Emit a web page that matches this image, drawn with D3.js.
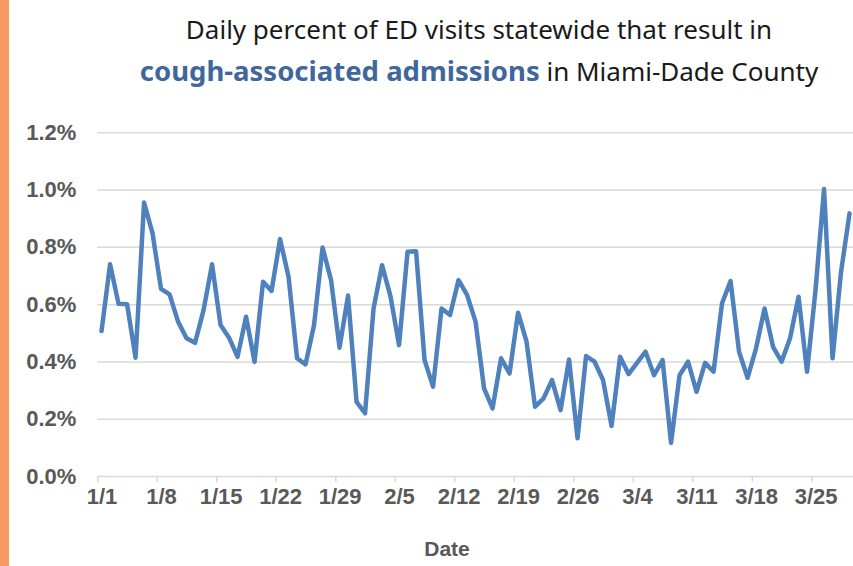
<!DOCTYPE html>
<html>
<head>
<meta charset="utf-8">
<script src="https://cdn.jsdelivr.net/npm/d3@7"></script>
<style>
  body { margin: 0; background: #fff; }
  svg { display: block; }
</style>
</head>
<body>
<svg id="chart" width="853" height="566"></svg>
<script>
// Daily values, 1/1 to 3/29 (fraction of ED visits)
let startDate = new Date(2024, 0, 1);
let values = [
  0.506, 0.739, 0.601, 0.600, 0.413, 0.955, 0.847, 0.653, 0.634, 0.539,
  0.481, 0.465, 0.579, 0.739, 0.527, 0.483, 0.416, 0.556, 0.399, 0.678,
  0.646, 0.827, 0.696, 0.411, 0.390, 0.527, 0.798, 0.684, 0.448, 0.630,
  0.259, 0.219, 0.585, 0.736, 0.626, 0.457, 0.783, 0.785, 0.405, 0.312,
  0.585, 0.562, 0.684, 0.632, 0.539, 0.306, 0.236, 0.411, 0.358, 0.570,
  0.469, 0.242, 0.271, 0.335, 0.230, 0.407, 0.132, 0.419, 0.399, 0.335,
  0.175, 0.416, 0.356, 0.395, 0.434, 0.352, 0.405, 0.116, 0.352, 0.399,
  0.294, 0.395, 0.364, 0.603, 0.681, 0.434, 0.343, 0.446, 0.585, 0.451,
  0.399, 0.481, 0.626, 0.364, 0.650, 1.002, 0.411, 0.713, 0.917
].map(function(v){ return v / 100; });

let yTicks = [0, 0.002, 0.004, 0.006, 0.008, 0.010, 0.012];
let xTickLabels = ["1/1","1/8","1/15","1/22","1/29","2/5","2/12","2/19","2/26","3/4","3/11","3/18","3/25"];

let data = values.map(function(v, i){
  return { date: d3.timeDay.offset(startDate, i), i: i, value: v };
});

// General Variables
let chart = d3.select("#chart");
let plot_left = 97.3, plot_right = 853.8, plot_top = 132.3, plot_bottom = 476;

// x position scale (day index, point drawn in middle of its day)
let x = d3.scaleLinear()
          .domain([0, values.length])
          .range([plot_left, plot_right]);

// y position scale
let y = d3.scaleLinear()
          .domain([0, 0.012])
          .range([plot_bottom, plot_top]);

// orange strip on the left edge
chart.append("rect")
  .attr("x", 0).attr("y", 0)
  .attr("width", 9).attr("height", 566)
  .attr("fill", "#F89A62");

// gridlines + y labels
let yAxis = chart.append("g")
  .attr("transform", "translate(" + plot_left + ",0)")
  .call(d3.axisLeft(y).tickValues(yTicks).tickSize(-(plot_right - plot_left)).tickFormat(d3.format(".1%")));
yAxis.select(".domain").remove();
yAxis.selectAll(".tick line").attr("stroke", "#d9d9d9").attr("stroke-width", 1.5);
yAxis.selectAll(".tick text")
  .attr("x", -21)
  .attr("fill", "#595959")
  .style("font-family", "'Liberation Sans Narrow', 'Arial Narrow', sans-serif")
  .style("font-weight", "bold")
  .style("font-size", "22px");

// x tick marks at week boundaries
let weekStarts = xTickLabels.map(function(d, k){ return k * 7; });
let xTicks = chart.append("g")
  .attr("transform", "translate(0," + plot_bottom + ")")
  .call(d3.axisBottom(x).tickValues(weekStarts).tickSize(6).tickFormat(""));
xTicks.select(".domain").remove();
xTicks.selectAll(".tick line").attr("stroke", "#d9d9d9").attr("stroke-width", 1.5);

// x labels at the middle of the labelled day
let xLabels = chart.append("g")
  .attr("transform", "translate(0," + plot_bottom + ")")
  .call(d3.axisBottom(x).tickValues(weekStarts.map(function(d){ return d + 0.5; }))
        .tickSize(0).tickPadding(12)
        .tickFormat(function(d, k){ return xTickLabels[k]; }));
xLabels.select(".domain").remove();
xLabels.selectAll(".tick text")
  .attr("fill", "#595959")
  .style("font-family", "'Liberation Sans Narrow', 'Arial Narrow', sans-serif")
  .style("font-weight", "bold")
  .style("font-size", "22px");

// the line
let line = d3.line()
  .x(function(d){ return x(d.i + 0.5); })
  .y(function(d){ return y(d.value); });

chart.append("path")
  .datum(data)
  .attr("fill", "none")
  .attr("stroke", "#4F81BD")
  .attr("stroke-width", 4.5)
  .attr("stroke-linejoin", "round")
  .attr("stroke-linecap", "round")
  .attr("d", line);

// axis title
chart.append("text")
  .attr("x", 447).attr("y", 556)
  .attr("text-anchor", "middle")
  .attr("fill", "#595959")
  .style("font-family", "'Liberation Sans Narrow', 'Arial Narrow', sans-serif")
  .style("font-weight", "bold")
  .style("font-size", "21px")
  .text("Date");

// title
let title = chart.append("text")
  .attr("text-anchor", "middle")
  .style("font-family", "'Noto Sans', sans-serif")
  .style("font-size", "26px")
  .attr("fill", "#1a1a1a");
title.append("tspan").attr("x", 479).attr("y", 39)
  .text("Daily percent of ED visits statewide that result in");
let t2 = title.append("tspan").attr("x", 479).attr("y", 81);
t2.append("tspan").attr("fill", "#3F679B").style("font-weight", "bold").style("font-size", "27.5px")
  .text("cough-associated admissions");
t2.append("tspan").text(" in Miami-Dade County");
</script>
</body>
</html>
